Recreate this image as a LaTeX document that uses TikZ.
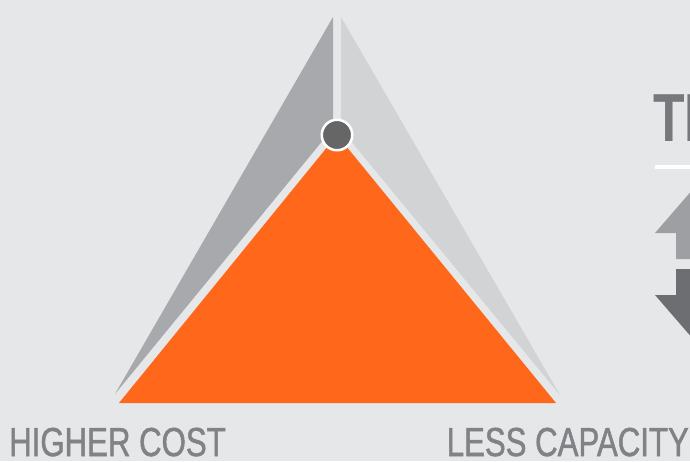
\documentclass[tikz,border=0pt]{standalone}
\usepackage{fontspec}
\setmainfont{Liberation Sans}
\newfontfamily\condfont[FakeStretch=0.77,FakeBold=1.2]{Liberation Sans}
\newfontfamily\condbold[FakeStretch=0.76]{Liberation Sans Bold}
\usetikzlibrary{shapes}

\definecolor{bggray}{HTML}{E6E7E8}
\definecolor{darkside}{HTML}{A7A9AC}
\definecolor{lightside}{HTML}{D1D3D4}
\definecolor{costorange}{HTML}{FF671B}
\definecolor{dotgray}{HTML}{666666}
\definecolor{labelgray}{HTML}{808285}
\definecolor{titlegray}{HTML}{77787B}
\definecolor{upgray}{HTML}{9D9FA2}
\definecolor{downgray}{HTML}{6D6E71}

\begin{document}
\begin{tikzpicture}[x=1pt,y=-1pt,
    sidelabel/.style={inner sep=0pt,text=labelgray,font=\condfont\fontsize{40.5}{40.5}\selectfont},
    trend/.style={draw=none}]
        % 背景
        \fill[bggray] (0,0) rectangle (690,461);
        \useasboundingbox (0,0) rectangle (690,461);
        \clip (0,0) rectangle (690,461);

        % 两侧的灰色三角形
        \fill[darkside] (333,17) -- (115,394) -- (333,128) -- cycle;
        \fill[lightside] (341,17) -- (560,395) -- (341,129) -- cycle;

        % 橙色三角形
        \fill[costorange] (337,135) -- (119,403) -- (556,403) -- cycle;

        % 顶点
        \node[circle,fill=dotgray,draw=white,line width=2.5pt,minimum size=30.5pt,inner sep=0pt] (apex) at (337,135) {};

        % 右侧标题
        \node[anchor=base west,inner sep=0pt,text=titlegray,font=\condbold\fontsize{68}{68}\selectfont] (title) at (653,141) {TH};
        \coordinate (rulestart) at (655,167);
        \coordinate (ruleend) at (690,167);
        \draw[white,line width=4pt] (rulestart) -- (ruleend);

        % 上下箭头
        \fill[upgray,trend] (700,181) -- (655,233) -- (676,233) -- (676,259)
            -- (724,259) -- (724,233) -- (745,233) -- cycle;
        \fill[downgray,trend] (676,269) -- (676,295) -- (655,295) -- (700,347)
            -- (745,295) -- (724,295) -- (724,269) -- cycle;

        % 底部说明
        \node[sidelabel,anchor=base west] (cost) at (9,456) {HIGHER COST};
        \node[sidelabel,anchor=base east] (capacity) at (689,456) {LESS CAPACITY};
    \end{tikzpicture}
\end{document}
